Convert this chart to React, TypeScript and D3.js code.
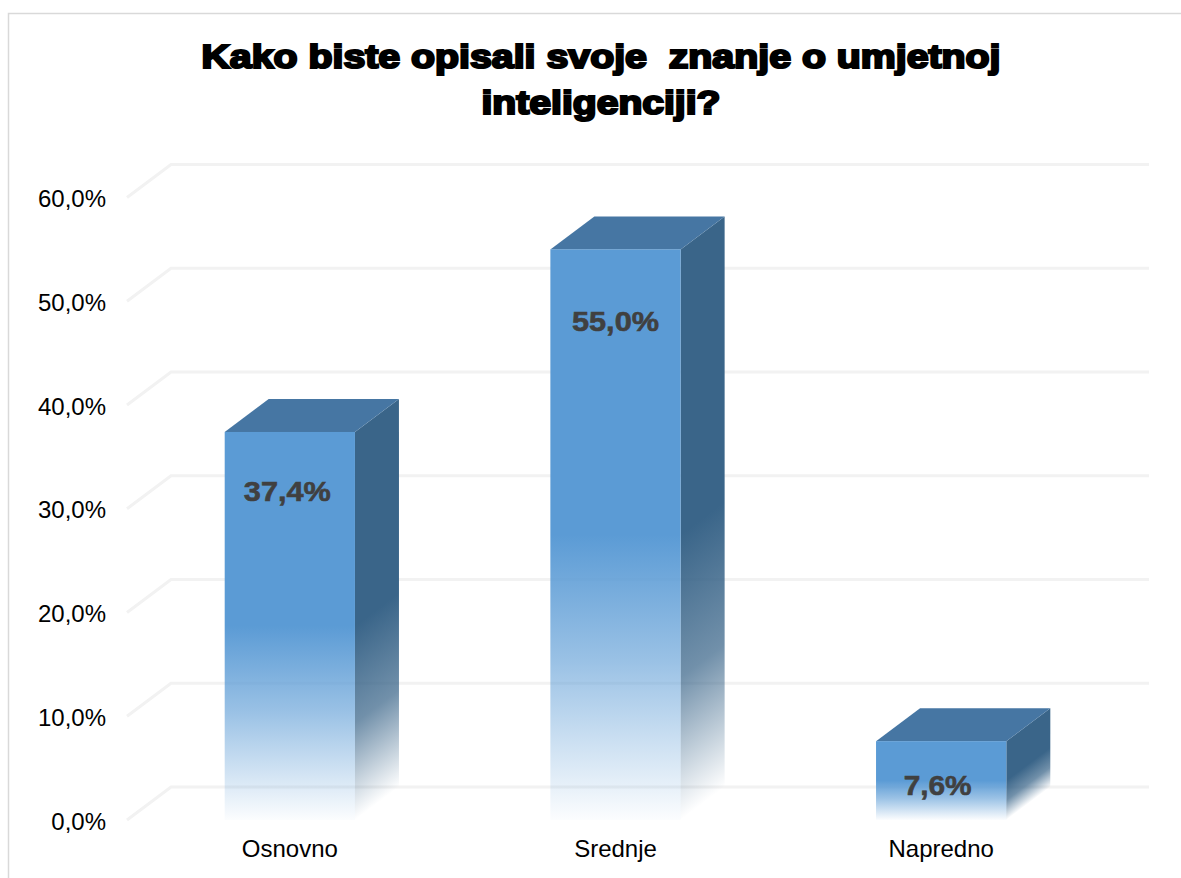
import React from "react";
import * as d3 from "d3";

const categories = ["Osnovno", "Srednje", "Napredno"];
const values = [37.4, 55.0, 7.6];
const valueLabels = ["37,4%", "55,0%", "7,6%"];
const yTicks = [0, 10, 20, 30, 40, 50, 60];
const titleLines = ["Kako biste opisali svoje  znanje o umjetnoj", "inteligenciji?"];

const W = 1181, H = 878;
const depthX = 44, depthY = 33;
const y = d3.scaleLinear().domain([0, 60]).range([820, 197.5]);
const x = d3.scaleBand<string>().domain(categories).range([127, 1104]).paddingInner(0.6).paddingOuter(0.3);
const fmt = (v: number) => v.toFixed(1).replace(".", ",") + "%";
const FONT = "'Liberation Sans', Arial, sans-serif";
const labelDx = [-2.5, 0, -3.5];
const labelDy = [69, 82, 54];

export default function App() {
  const base = y(0);
  return (
    <svg width={W} height={H} viewBox={`0 0 ${W} ${H}`} style={{ position: "absolute", left: 0, top: 0, background: "#fff" }}>
      <defs>
        <linearGradient id="front" x1="0" y1="0" x2="0" y2="1">
          <stop offset="0.5" stopColor="#5B9BD5" stopOpacity={1} />
          <stop offset="0.72" stopColor="#5B9BD5" stopOpacity={0.62} />
          <stop offset="1" stopColor="#5B9BD5" stopOpacity={0.02} />
        </linearGradient>
        {categories.map((c, i) => {
          const x1 = (x(c) as number) + x.bandwidth();
          const top = y(values[i]);
          const y0 = top + (base - top) * 0.5;
          const d = base - y0;
          return (
            <linearGradient key={c} id={`side${i}`} gradientUnits="userSpaceOnUse" x1={x1} y1={y0} x2={x1 + 0.48 * d} y2={y0 + 0.64 * d}>
              <stop offset="0" stopColor="#3A6589" stopOpacity={1} />
              <stop offset="0.5" stopColor="#3A6589" stopOpacity={0.72} />
              <stop offset="1" stopColor="#3A6589" stopOpacity={0} />
            </linearGradient>
          );
        })}
      </defs>

      <path d={`M8.5 ${H}V13.5H${W}`} fill="none" stroke="#d9d9d9" strokeWidth={1.5} />

      {titleLines.map((t, i) => (
        <text key={t} x={601} y={68 + i * 45.5} textAnchor="middle" xmlSpace="preserve"
          textLength={i === 0 ? 799 : 239} lengthAdjust="spacingAndGlyphs"
          fontFamily={FONT} fontWeight={700} fontSize={33} fill="#000" stroke="#000" strokeWidth={2.2}
          style={{ whiteSpace: "pre" }}>
          {t}
        </text>
      ))}

      {yTicks.map((t) => (
        <g key={t}>
          <path d={`M127 ${y(t)}L${127 + depthX} ${y(t) - depthY}H1149`} fill="none" stroke="#f2f2f2" strokeWidth={3} />
          <text x={106} y={y(t) + 9.5} textAnchor="end" fontFamily={FONT} fontSize={24} fill="#000">{fmt(t)}</text>
        </g>
      ))}

      {categories.map((c, i) => {
        const x0 = x(c) as number;
        const w = x.bandwidth();
        const top = y(values[i]);
        return (
          <g key={c}>
            <path d={`M${x0 + w} ${top}l${depthX} ${-depthY}V${base - depthY}l${-depthX} ${depthY}Z`} fill={`url(#side${i})`} />
            <path d={`M${x0} ${top}l${depthX} ${-depthY}h${w}l${-depthX} ${depthY}Z`} fill="#4676A3" />
            <rect x={x0} y={top} width={w} height={base - top} fill="url(#front)" />
            <text x={x0 + w / 2 + labelDx[i]} y={top + labelDy[i]} textAnchor="middle"
              textLength={i === 2 ? 68 : 87} lengthAdjust="spacingAndGlyphs"
              fontFamily={FONT} fontWeight={700} fontSize={28} fill="#404040" stroke="#404040" strokeWidth={0.6}>
              {valueLabels[i]}
            </text>
            <text x={x0 + w / 2} y={857} textAnchor="middle" fontFamily={FONT} fontSize={24} fill="#000">{c}</text>
          </g>
        );
      })}
    </svg>
  );
}
